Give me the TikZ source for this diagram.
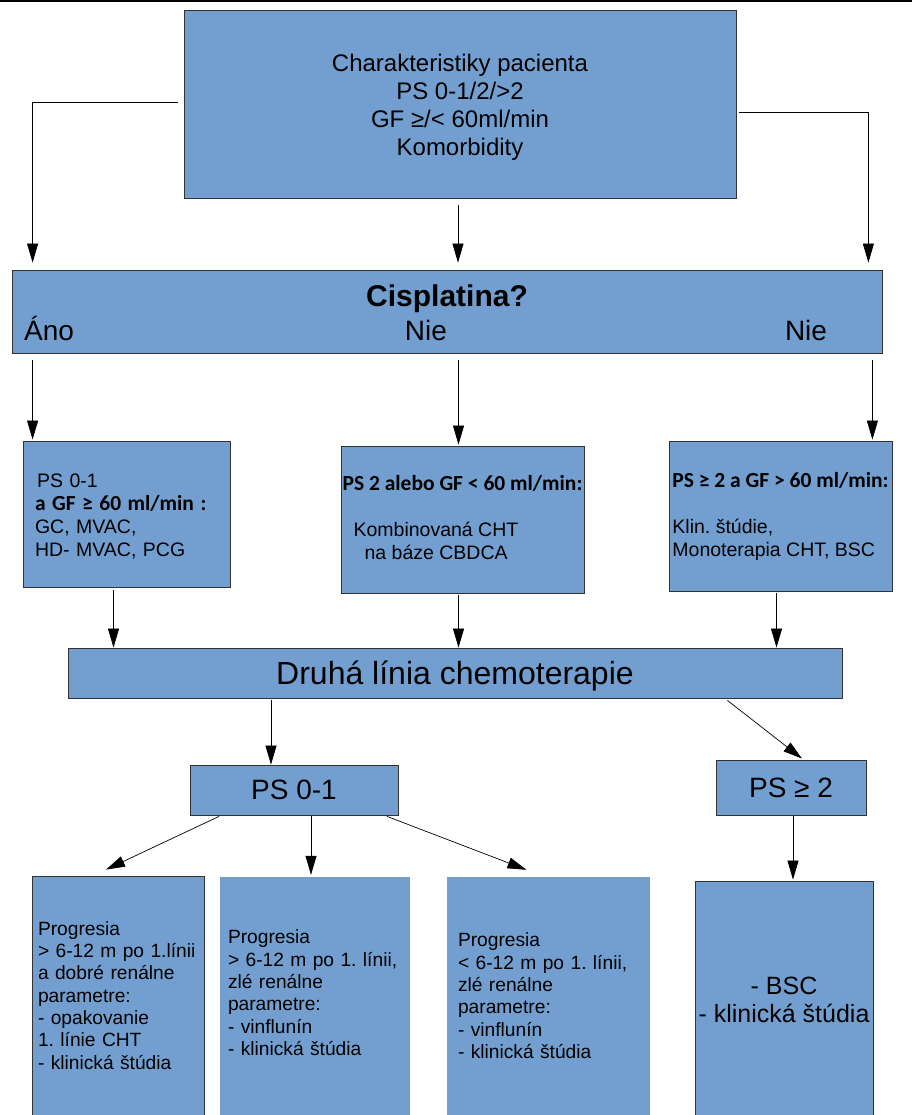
\documentclass[tikz,border=0pt]{standalone}
\usepackage{fontspec}
\setmainfont{Liberation Sans}
\newfontfamily\calfont{Carlito}
\usetikzlibrary{arrows.meta}
\definecolor{boxblue}{HTML}{729FCF}
\frenchspacing
\newcommand{\boxtop}[1]{\rule{0pt}{#1}}
\newcommand{\boxbot}[1]{\rule[-#1]{0pt}{0pt}}

\begin{document}
\begin{tikzpicture}[x=1pt, y=-1pt,
  m/.style={fill=boxblue, inner sep=0pt, align=center,
    execute at begin node={\rule{0pt}{0.9em}}, execute at end node={\rule[-0.21em]{0pt}{0pt}}},
  n/.style={m, draw=black!80, line width=0.8pt},
  t/.style={inner sep=0pt, font=\fontsize{28}{32}\selectfont},
  arrow/.style={-{Triangle[length=19pt, width=11pt]}, line width=0.7pt, black}
]
  \useasboundingbox (0,0) rectangle (912,1115);
  \draw[line width=2pt] (0,1) -- (912,1);

  % patient and cisplatin question
  \node[n, minimum width=552pt, minimum height=188pt, font=\fontsize{24}{28}\selectfont] (pac) at (460,104) {\boxtop{1.03em}Charakteristiky pacienta\\PS 0-1/2/>2\\GF ≥/< 60ml/min\\Komorbidity};
  \node[n, minimum width=870pt, minimum height=83pt] (cis) at (447,311.5) {};
  \node[t, font=\fontsize{30}{34}\selectfont\bfseries, anchor=base] (cisq) at (447,306) {Cisplatina?};
  \node[t, anchor=base west] (ano) at (24,340) {Áno};
  \node[t, anchor=base] (nie1) at (426,340) {Nie};
  \node[t, anchor=base] (nie2) at (806,340) {Nie};

  % first line
  \node[n, minimum width=207pt, minimum height=146pt, align=left, text width=183pt, inner xsep=12pt, font=\fontsize{19.5}{23}\selectfont] (A) at (126.5,514) {\boxtop{1.03em}\hspace*{2pt}PS 0-1\\{\calfont\bfseries\fontsize{21.5}{23}\selectfont a GF ≥ 60 ml/min :}\\GC, MVAC,\\HD- MVAC, PCG};
  \node[n, minimum width=243pt, minimum height=147pt, align=left, font=\fontsize{19.5}{23}\selectfont] (B) at (462.5,519.5) {{\calfont\bfseries\fontsize{21.5}{23}\selectfont PS 2 alebo GF < 60 ml/min:}\\[23pt]\hspace*{11pt}Kombinovaná CHT\\\hspace*{22pt}na báze CBDCA};
  \node[n, minimum width=223pt, minimum height=150pt, align=left, font=\fontsize{19.5}{23}\selectfont] (C) at (780.5,516) {{\calfont\bfseries\fontsize{21.5}{23}\selectfont PS ≥ 2 a GF > 60 ml/min:}\\[23pt]Klin. štúdie,\\Monoterapia CHT, BSC};

  % second line
  \node[n, minimum width=774pt, minimum height=50pt, font=\fontsize{32}{36}\selectfont] (druha) at (455,673) {Druhá línia chemoterapie};
  \node[n, minimum width=208pt, minimum height=50pt, font=\fontsize{28}{32}\selectfont] (ps01) at (294,790) {PS 0-1};
  \node[n, minimum width=150pt, minimum height=55pt, font=\fontsize{28}{32}\selectfont] (ps2) at (791,787.5) {PS ≥ 2};

  \node[n, minimum width=172pt, minimum height=239pt, align=left, text width=160pt, inner xsep=6pt, font=\fontsize{19.2}{22.3}\selectfont] (d1) at (118,995.5) {Progresia\\> 6-12 m po 1.línii\\a dobré renálne\\parametre:\\- opakovanie\\1. línie CHT\\- klinická štúdia};
  \node[m, minimum width=190pt, minimum height=238pt, align=left, text width=174pt, inner xsep=8pt, font=\fontsize{19.2}{22.3}\selectfont] (d2) at (315,996) {Progresia\\> 6-12 m po 1. línii,\\zlé renálne\\parametre:\\- vinflunín\\- klinická štúdia\boxbot{0.52em}};
  \node[m, minimum width=203pt, minimum height=238pt, align=left, text width=181pt, inner xsep=11pt, font=\fontsize{19.2}{22.3}\selectfont] (d3) at (548.5,996) {Progresia\\< 6-12 m po 1. línii,\\zlé renálne\\parametre:\\- vinflunín\\- klinická štúdia};
  \node[n, minimum width=178pt, minimum height=234pt, font=\fontsize{25}{28}\selectfont] (d4) at (784,998) {\boxtop{1.04em}- BSC\\- klinická štúdia};

  \draw[arrow, shorten <=6pt, shorten >=7pt] ([yshift=2pt]pac.west) -| ([xshift=21pt]cis.north west);
  \draw[arrow, shorten <=7pt, shorten >=7pt] ([xshift=-2pt]pac.south) -- ([xshift=-2pt]pac.south |- cis.north);
  \draw[arrow, shorten <=3pt, shorten >=7pt] ([yshift=-8pt]pac.east) -| ([xshift=-14pt]cis.north east);

  \draw[arrow, shorten <=7pt, shorten >=1pt] ([xshift=10pt]A.north west |- cis.south) -- ([xshift=10pt]A.north west);
  \draw[arrow, shorten <=7pt, shorten >=1pt] ([xshift=-4pt]B.north |- cis.south) -- ([xshift=-4pt]B.north);
  \draw[arrow, shorten <=7pt, shorten >=1pt] ([xshift=-20pt]C.north east |- cis.south) -- ([xshift=-20pt]C.north east);

  \draw[arrow, shorten <=3pt] ([xshift=-13pt]A.south) -- ([xshift=-13pt]A.south |- druha.north);
  \draw[arrow, shorten <=2pt] ([xshift=-4pt]B.south) -- ([xshift=-4pt]B.south |- druha.north);
  \draw[arrow, shorten <=2pt] ([xshift=-4pt]C.south) -- ([xshift=-4pt]C.south |- druha.north);

  \draw[arrow, shorten <=2pt] ([xshift=-23pt]ps01.north |- druha.south) -- ([xshift=-23pt]ps01.north);
  \draw[arrow] ([xshift=-115pt,yshift=-2pt]druha.south east) -- ([xshift=11pt,yshift=1pt]ps2.north);

  \draw[arrow] ([xshift=-75pt,yshift=-1pt]ps01.south) -- ([xshift=-12pt,yshift=6pt]d1.north);
  \draw[arrow, shorten <=1pt, shorten >=2pt] ([xshift=17pt]ps01.south) -- ([xshift=17pt]ps01.south |- d2.north);
  \draw[arrow] ([xshift=93pt,yshift=-1pt]ps01.south) -- ([xshift=-22pt,yshift=7pt]d3.north);
  \draw[arrow, shorten <=1pt, shorten >=1pt] ([xshift=2pt]ps2.south) -- ([xshift=2pt]ps2.south |- d4.north);
\end{tikzpicture}
\end{document}
